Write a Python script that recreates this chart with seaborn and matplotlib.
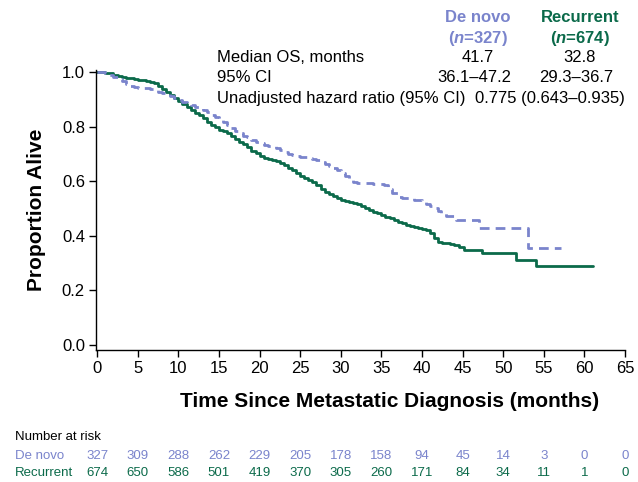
import matplotlib
matplotlib.use("Agg")
import matplotlib.pyplot as plt
import matplotlib.transforms as mtransforms
import seaborn as sns
import pandas as pd

# Kaplan-Meier curves (months, proportion alive)
recurrent_t = [0, 0.5, 1.0, 1.5, 2.0, 2.5, 3.0, 3.5, 4.0, 4.5, 5.0, 5.5, 6.0, 6.5,
               7.0, 7.5, 8.0, 8.5, 9.0, 9.5, 10.0, 10.5, 11.0, 11.5, 12.0, 12.5,
               13.0, 13.5, 14.0, 14.5, 15.0, 15.5, 16.0, 16.5, 17.0, 17.5, 18.0,
               18.5, 19.0, 19.5, 20.0, 20.5, 21.0, 21.5, 22.0, 22.5, 23.0, 23.5,
               24.0, 24.5, 25.0, 25.5, 26.0, 26.5, 27.0, 27.5, 28.0, 28.5, 29.0,
               29.5, 30.0, 30.5, 31.0, 31.5, 32.0, 32.5, 33.0, 33.5, 34.0, 34.5,
               35.0, 35.5, 36.0, 36.5, 37.0, 37.5, 38.0, 38.5, 39.0, 39.5, 40.0,
               40.5, 41.0, 41.5, 42.0, 42.5, 43.0, 43.5, 44.0, 44.5, 45.2, 47.4,
               51.6, 54.0, 61.0]
recurrent_s = [1.0, 1.0, 0.997, 0.995, 0.99, 0.985, 0.98, 0.977, 0.976, 0.974,
               0.972, 0.97, 0.966, 0.963, 0.958, 0.948, 0.936, 0.925, 0.916, 0.906,
               0.894, 0.882, 0.872, 0.862, 0.851, 0.842, 0.83, 0.815, 0.806, 0.797,
               0.789, 0.783, 0.775, 0.765, 0.755, 0.745, 0.735, 0.724, 0.712, 0.702,
               0.692, 0.685, 0.682, 0.679, 0.675, 0.666, 0.658, 0.65, 0.64, 0.63,
               0.62, 0.612, 0.605, 0.597, 0.585, 0.572, 0.562, 0.553, 0.545, 0.537,
               0.532, 0.528, 0.525, 0.521, 0.515, 0.508, 0.501, 0.495, 0.488, 0.482,
               0.476, 0.47, 0.465, 0.459, 0.452, 0.446, 0.441, 0.437, 0.432, 0.428,
               0.424, 0.42, 0.41, 0.392, 0.378, 0.374, 0.372, 0.369, 0.366, 0.358,
               0.348, 0.337, 0.311, 0.29, 0.29]

denovo_t = [0, 0.5, 1.0, 1.5, 2.0, 2.5, 3.0, 3.5, 4.0, 4.5, 5.0, 6.0, 6.5, 7.0,
            7.5, 8.0, 8.5, 9.0, 9.5, 10.0, 10.5, 11.0, 11.5, 12.0, 12.5, 13.0,
            13.5, 14.0, 14.5, 15.0, 15.5, 16.0, 16.5, 17.0, 17.5, 18.0, 18.5, 19.0,
            19.5, 20.0, 20.5, 21.0, 21.5, 22.0, 22.5, 23.0, 23.5, 24.0, 24.5, 25.0,
            25.5, 26.0, 26.5, 27.0, 27.5, 28.0, 28.5, 29.0, 29.5, 30.0, 30.5, 31.0,
            31.5, 32.0, 33.0, 34.0, 35.3, 35.8, 36.3, 37.0, 37.5, 39.0, 40.0, 40.5,
            41.0, 41.5, 42.0, 42.4, 43.0, 44.2, 47.0, 53.0, 57.1]
denovo_s = [1.0, 1.0, 0.995, 0.99, 0.983, 0.975, 0.965, 0.956, 0.948, 0.943,
            0.941, 0.94, 0.938, 0.932, 0.926, 0.922, 0.919, 0.912, 0.904, 0.896,
            0.891, 0.887, 0.88, 0.873, 0.868, 0.861, 0.852, 0.843, 0.835, 0.825,
            0.815, 0.805, 0.795, 0.785, 0.776, 0.767, 0.76, 0.751, 0.745, 0.738,
            0.733, 0.73, 0.727, 0.722, 0.715, 0.707, 0.7, 0.695, 0.692, 0.69,
            0.688, 0.685, 0.682, 0.678, 0.67, 0.662, 0.655, 0.648, 0.64, 0.63,
            0.618, 0.607, 0.598, 0.595, 0.592, 0.589, 0.586, 0.57, 0.555, 0.543,
            0.538, 0.531, 0.525, 0.518, 0.51, 0.5, 0.49, 0.483, 0.472, 0.457,
            0.43, 0.355, 0.355]

risk_times = [0, 5, 10, 15, 20, 25, 30, 35, 40, 45, 50, 55, 60, 65]
denovo_risk = [327, 309, 288, 262, 229, 205, 178, 158, 94, 45, 14, 3, 0, 0]
recurrent_risk = [674, 650, 586, 501, 419, 370, 305, 260, 171, 84, 34, 11, 1, 0]

groups = ["De novo", "Recurrent"]
group_n = [327, 674]
median_os = ["41.7", "32.8"]
median_ci = ["36.1\u201347.2", "29.3\u201336.7"]
hazard_ratio = "0.775 (0.643\u20130.935)"

BLUE = "#7a84cc"
GREEN = "#0b6a4a"

sns.set_style("ticks")
plt.rcParams["font.family"] = ["Liberation Sans", "DejaVu Sans"]
plt.rcParams["text.color"] = "black"
plt.rcParams["axes.labelcolor"] = "black"
plt.rcParams["mathtext.fontset"] = "custom"
plt.rcParams["mathtext.it"] = "Liberation Sans:italic:bold"
plt.rcParams["mathtext.rm"] = "Liberation Sans:bold"

fig = plt.figure(figsize=(6.38, 4.82), dpi=100)
ax = fig.add_axes([96 / 638, 1 - 350 / 482, (625 - 96) / 638, (350 - 70) / 482])

df_rec = pd.DataFrame({"t": recurrent_t, "s": recurrent_s})
df_dn = pd.DataFrame({"t": denovo_t, "s": denovo_s})

sns.lineplot(data=df_rec, x="t", y="s", ax=ax, color=GREEN, lw=2.0,
             drawstyle="steps-post", estimator=None, sort=False)
sns.lineplot(data=df_dn, x="t", y="s", ax=ax, color=BLUE, lw=2.0,
             drawstyle="steps-post", estimator=None, sort=False,
             dashes=False, linestyle=(0, (3.5, 2.2)))
for ln in ax.lines:
    ln.set_clip_on(False)

ax.set_xlim(-0.15, 65)
ax.set_ylim(-0.018, 1.007)
ax.set_xticks(risk_times)
ax.set_yticks([0, 0.2, 0.4, 0.6, 0.8, 1.0])
ax.set_yticklabels(["0.0", "0.2", "0.4", "0.6", "0.8", "1.0"])
ax.tick_params(labelsize=12, length=5, width=1, colors="black", pad=3)
for sp in ["left", "bottom"]:
    ax.spines[sp].set_linewidth(1.0)
    ax.spines[sp].set_color("black")
sns.despine(ax=ax)

ax.set_xlabel("Time Since Metastatic Diagnosis (months)", fontsize=15,
              fontweight="bold", color="black")
ax.xaxis.set_label_coords((390 - 96) / (625 - 96), -0.15)
ax.set_ylabel("Proportion Alive", fontsize=15, fontweight="bold", color="black")
ax.yaxis.set_label_coords(-0.095, 0.5)

def fx(px):
    return px / 638

def fy(py):
    return 1 - py / 482

# summary table in the top right
cols = [478, 580]
colors = [BLUE, GREEN]
for g, n, med, ci, cx, c in zip(groups, group_n, median_os, median_ci, cols, colors):
    fig.text(fx(cx), fy(18), g, ha="center", va="center", fontsize=12,
             fontweight="bold", color=c)
    fig.text(fx(cx), fy(39), "($\\it{n}$=%d)" % n, ha="center", va="center",
             fontsize=12, fontweight="bold", color=c)
    fig.text(fx(cx), fy(58), med, ha="center", va="center", fontsize=12)
    fig.text(fx(cx - 4), fy(78), ci, ha="center", va="center", fontsize=12)
fig.text(fx(217), fy(58), "Median OS, months", ha="left", va="center", fontsize=12)
fig.text(fx(217), fy(78), "95% CI", ha="left", va="center", fontsize=12)
fig.text(fx(217), fy(99), "Unadjusted hazard ratio (95% CI)", ha="left", va="center",
         fontsize=12)
fig.text(fx(625), fy(99), hazard_ratio, ha="right", va="center", fontsize=12)

# number at risk table
trans = mtransforms.blended_transform_factory(ax.transData, fig.transFigure)
fig.text(fx(15), fy(437), "Number at risk", ha="left", va="center", fontsize=9.5)
fig.text(fx(15), fy(456), groups[0], ha="left", va="center", fontsize=9.5, color=BLUE)
fig.text(fx(15), fy(473), groups[1], ha="left", va="center", fontsize=9.5, color=GREEN)
for t, a, b in zip(risk_times, denovo_risk, recurrent_risk):
    ax.text(t, fy(456), str(a), transform=trans, ha="center", va="center",
            fontsize=9.5, color=BLUE)
    ax.text(t, fy(473), str(b), transform=trans, ha="center", va="center",
            fontsize=9.5, color=GREEN)

fig.savefig("out.png", dpi=100)
